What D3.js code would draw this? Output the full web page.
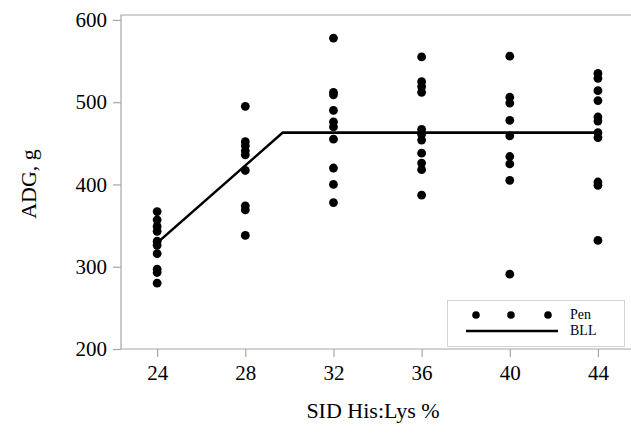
<!DOCTYPE html>
<html><head><meta charset="utf-8">
<script src="https://cdn.jsdelivr.net/npm/d3@7"></script>
<style>body{margin:0;background:#fff}svg{display:block}
svg text{font-family:"Liberation Serif","Times New Roman","DejaVu Serif",serif}</style>
</head><body>
<svg id="c" width="631" height="433"></svg>
<script>
const levels = [24, 28, 32, 36, 40, 44];
const adg24 = [367, 357, 349, 343, 331, 326, 316, 297, 293, 280];
const adg28 = [495, 452, 447, 441, 436, 417, 374, 369, 338];
const adg32 = [578, 512, 509, 490, 476, 470, 455, 420, 400, 378];
const adg36 = [555, 525, 519, 512, 467, 461, 454, 438, 426, 418, 387];
const adg40 = [556, 506, 499, 478, 459, 434, 425, 405, 291];
const adg44 = [535, 529, 514, 502, 482, 477, 463, 457, 403, 399, 332];
const bllX = [24, 29.7, 44];
const bllY = [329, 463, 463];
const xTicks = [24, 28, 32, 36, 40, 44];
const yTicks = [200, 300, 400, 500, 600];
const legendLabels = ["Pen", "BLL"];

const groups = [adg24, adg28, adg32, adg36, adg40, adg44];
const pens = [];
groups.forEach((g, i) => g.forEach(v => pens.push({x: levels[i], y: v})));

const svg = d3.select("#c");
const font = '"Liberation Serif","Times New Roman","DejaVu Serif",serif';
const axisColor = "#a6a6a6";
const x = d3.scaleLinear().domain([22.36, 45.5]).range([121, 631]);
const y = d3.scaleLinear().domain([200, 606]).range([349, 15]);

// frame (left, top, bottom)
svg.append("path")
  .attr("d", `M631,${y.range()[1]}H${x.range()[0]}V${y.range()[0]}H631`)
  .attr("fill", "none").attr("stroke", axisColor).attr("stroke-width", 1.2);

const yAxis = svg.append("g").attr("transform", `translate(${x.range()[0]},0)`)
  .call(d3.axisLeft(y).tickValues(yTicks).tickSize(8).tickPadding(6));
yAxis.attr("font-family", null);
yAxis.select(".domain").remove();
yAxis.selectAll("line").attr("stroke", axisColor).attr("stroke-width", 1.2);
yAxis.selectAll("text").style("font-family", font).style("font-size", "21px").attr("fill", "#000");

const xAxis = svg.append("g").attr("transform", `translate(0,${y.range()[0]})`)
  .call(d3.axisBottom(x).tickValues(xTicks).tickSize(8).tickPadding(8));
xAxis.attr("font-family", null);
xAxis.select(".domain").remove();
xAxis.selectAll("line").attr("stroke", axisColor).attr("stroke-width", 1.2);
xAxis.selectAll("text").style("font-family", font).style("font-size", "21px").attr("fill", "#000");

// titles
svg.append("text").attr("x", 373).attr("y", 418).attr("text-anchor", "middle")
  .style("font-family", font).style("font-size", "22px").text("SID His:Lys %");
svg.append("text").attr("transform", "translate(36,184) rotate(-90)").attr("text-anchor", "middle")
  .style("font-family", font).style("font-size", "22px").text("ADG, g");

// BLL line
const line = d3.line().x(d => x(d[0])).y(d => y(d[1]));
svg.append("path").datum(bllX.map((v, i) => [v, bllY[i]]))
  .attr("d", line).attr("fill", "none").attr("stroke", "#000").attr("stroke-width", 2.6);

// pens
svg.append("g").selectAll("circle").data(pens).join("circle")
  .attr("cx", d => x(d.x)).attr("cy", d => y(d.y)).attr("r", 4.4).attr("fill", "#000");

// legend
const lg = svg.append("g");
lg.append("rect").attr("x", 447.5).attr("y", 300.5).attr("width", 177).attr("height", 46)
  .attr("fill", "#fff").attr("stroke", "#d4d4d4").attr("stroke-width", 1);
[476, 511, 548].forEach(cx => lg.append("circle").attr("cx", cx).attr("cy", 315).attr("r", 3.8).attr("fill", "#000"));
lg.append("line").attr("x1", 466).attr("x2", 558).attr("y1", 331).attr("y2", 331)
  .attr("stroke", "#000").attr("stroke-width", 2.6);
legendLabels.forEach((t, i) => lg.append("text").attr("x", 570).attr("y", 319 + i * 16)
  .style("font-family", font).style("font-size", "14px").text(t));
</script>
</body></html>
